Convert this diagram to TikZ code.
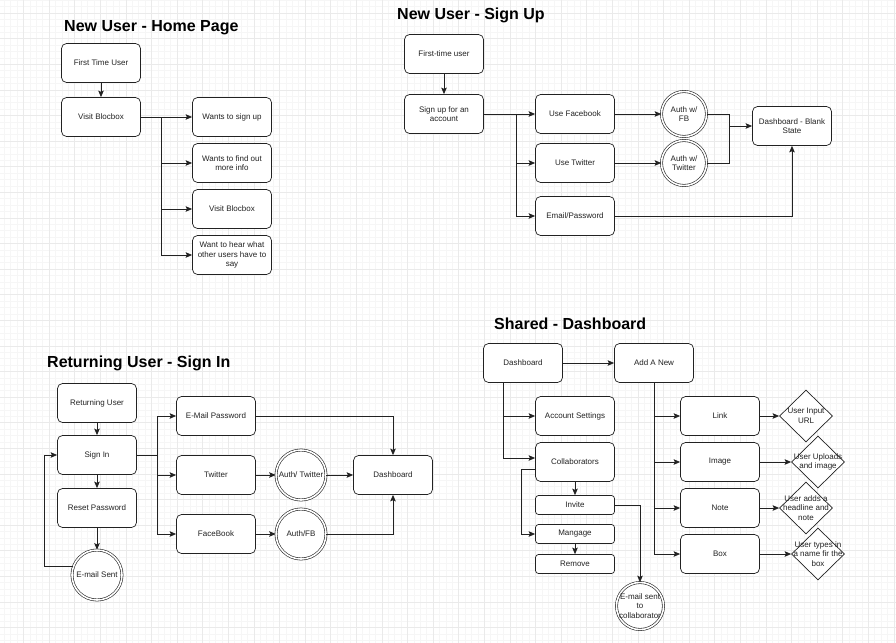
\documentclass[tikz,border=0pt]{standalone}
\usepackage{fontspec}
\setmainfont{Liberation Sans}
\usetikzlibrary{arrows.meta,calc,positioning,shapes.geometric}
\definecolor{gridmaj}{HTML}{EAEAEA}
\definecolor{gridmin}{HTML}{F6F6F6}
\definecolor{ink}{HTML}{222222}
\tikzset{
  box/.style={draw=ink, fill=white, line width=0.7pt, rounded corners=5pt, minimum width=79pt, minimum height=39pt, align=center, font=\fontsize{8}{9.5}\selectfont, text=ink, inner sep=1pt},
  smallbox/.style={box, minimum height=19pt, rounded corners=3pt},
  dcirc/.style={draw=ink, fill=white, circle, double, double distance=1.6pt, line width=0.6pt, minimum size=45pt, inner sep=0pt},
  dmnd/.style={draw=ink, fill=white, diamond, line width=0.7pt, minimum width=53pt, minimum height=52pt, inner sep=0pt},
  lbl/.style={align=center, font=\fontsize{8}{9.5}\selectfont, text=ink, inner sep=0pt},
  ttl/.style={font=\bfseries\fontsize{16}{19}\selectfont, anchor=west, inner sep=0pt},
  arr/.style={draw=ink, line width=0.9pt, -{Stealth[length=6.5pt,width=5.5pt,inset=1.2pt]}},
  ln/.style={draw=ink, line width=0.9pt},
}
\begin{document}
\begin{tikzpicture}[x=1pt, y=-1pt]
\useasboundingbox (0,0) rectangle (896,642);
\fill[white] (0,0) rectangle (896,642);
\begin{scope}
  \clip (0,0) rectangle (896,642);
  \draw[gridmin, line width=0.5pt, shift={(23.5,13)}, step=6.4pt] (-30,-20) grid (900,650);
  \draw[gridmaj, line width=0.6pt, shift={(23.5,13)}, step=25.6pt] (-30,-20) grid (900,650);
\end{scope}

% new user - home page
\node[ttl] (t1) at (64,28) {New User - Home Page};
\node[box] (ftu) at (101,63) {First Time User};
\node[box] (visit) at (101,117) {Visit Blocbox};
\node[box] (signup) at (232,117) {Wants to sign up};
\node[box] (info) at (232,163) {Wants to find out\\more info};
\node[box] (visit2) at (232,209) {Visit Blocbox};
\node[box] (hear) at (232,255) {Want to hear what\\other users have to\\say};
\coordinate (bus1) at (161,117);
\draw[arr] (ftu) -- (visit);
\draw[arr] (visit.east) -- (signup.west);
\draw[arr] (bus1) |- (info.west);
\draw[arr] (bus1) |- (visit2.west);
\draw[arr] (bus1) |- (hear.west);

% new user - sign up
\node[ttl] (t2) at (397,15) {New User - Sign Up};
\node[box] (first) at (444,54) {First-time user};
\node[box] (acct) at (444,114) {Sign up for an\\account};
\node[box] (usefb) at (575,114) {Use Facebook};
\node[box] (usetw) at (575,163) {Use Twitter};
\node[box] (email) at (575,216) {Email/Password};
\node[dcirc, label={[lbl]center:{Auth w/\\FB}}] (authfb) at (684,114) {};
\node[dcirc, label={[lbl]center:{Auth w/\\Twitter}}] (authtw) at (684,163) {};
\node[box] (blank) at (792,126) {Dashboard - Blank\\State};
\coordinate (bus2) at (516,114);
\coordinate (join2) at (729,126);
\draw[arr] (first) -- (acct);
\draw[arr] (acct.east) -- (usefb.west);
\draw[arr] (bus2) |- (usetw.west);
\draw[arr] (bus2) |- (email.west);
\draw[arr] (usefb) -- (authfb);
\draw[arr] (usetw) -- (authtw);
\draw[ln] (authfb.east) -| (join2 |- authtw.east) -- (authtw.east);
\draw[arr] (join2) -- (blank.west);
\draw[arr] (email.east) -| (blank.south);

% returning user - sign in
\node[ttl] (t3) at (47,363) {Returning User - Sign In};
\node[box] (ret) at (97,403) {Returning User};
\node[box] (signin) at (97,455) {Sign In};
\node[box] (reset) at (97,508) {Reset Password};
\node[dcirc, minimum size=50pt, label={[lbl]center:E-mail Sent}] (sent) at (97,575) {};
\node[box] (mailpw) at (216,416) {E-Mail Password};
\node[box] (twit) at (216,475) {Twitter};
\node[box] (face) at (216,534) {FaceBook};
\node[dcirc, minimum size=50pt, label={[lbl]center:Auth/ Twitter}] (atwit) at (301,475) {};
\node[dcirc, minimum size=50pt, label={[lbl]center:Auth/FB}] (aface) at (301,534) {};
\node[box] (dash3) at (393,475) {Dashboard};
\coordinate (bus3) at (157,455);
\draw[arr] (ret) -- (signin);
\draw[arr] (signin) -- (reset);
\draw[arr] (reset) -- (sent);
\draw[arr] (sent.160) -| ([xshift=-13pt]signin.west) -- (signin.west);
\draw[ln] (signin.east) -- (bus3);
\draw[arr] (bus3) |- (mailpw.west);
\draw[arr] (bus3) |- (twit.west);
\draw[arr] (bus3) |- (face.west);
\draw[arr] (twit) -- (atwit);
\draw[arr] (face) -- (aface);
\draw[arr] (atwit) -- (dash3);
\draw[arr] (mailpw.east) -| (dash3.north);
\draw[arr] (aface.east) -| (dash3.south);

% shared - dashboard
\node[ttl] (t4) at (494,324) {Shared - Dashboard};
\node[box] (dash) at (523,363) {Dashboard};
\node[box] (addnew) at (654,363) {Add A New};
\node[box] (settings) at (575,416) {Account Settings};
\node[box] (collab) at (575,462) {Collaborators};
\node[smallbox] (invite) at (575,505) {Invite};
\node[smallbox] (manage) at (575,534) {Mangage};
\node[smallbox] (remove) at (575,564) {Remove};
\node[dcirc, minimum size=47pt, label={[lbl]center:{E-mail sent\\to\\collaborator}}] (sentcol) at (640,606) {};
\node[box] (link) at (720,416) {Link};
\node[box] (image) at (720,462) {Image};
\node[box] (note) at (720,508) {Note};
\node[box] (boxn) at (720,554) {Box};
\node[dmnd, label={[lbl]center:{User Input\\URL}}] (url) at (806,416) {};
\node[dmnd, label={[lbl]center:{User Uploads\\and image}}] (upload) at (818,462) {};
\node[dmnd, label={[lbl]center:{User adds a\\headline and\\note}}] (headline) at (806,508) {};
\node[dmnd, label={[lbl]center:{User types in\\a name fir the\\box}}] (typename) at (818,554) {};
\draw[arr] (dash) -- (addnew);
\draw[arr] ([xshift=-20pt]dash.south) |- (settings.west);
\draw[arr] ([xshift=-20pt]dash.south) |- ([yshift=4pt]collab.west);
\draw[arr] (collab) -- (invite);
\draw[arr] ([yshift=-7pt]collab.west) -- ++(-14pt,0pt) |- (manage.west);
\draw[arr] (manage) -- (remove);
\draw[arr] (invite.east) -| (sentcol.north);
\draw[arr] (addnew.south) |- (link.west);
\draw[arr] (addnew.south) |- (image.west);
\draw[arr] (addnew.south) |- (note.west);
\draw[arr] (addnew.south) |- (boxn.west);
\draw[arr] (link) -- (url);
\draw[arr] (image) -- (upload);
\draw[arr] (note) -- (headline);
\draw[arr] (boxn) -- (typename);
\end{tikzpicture}
\end{document}
